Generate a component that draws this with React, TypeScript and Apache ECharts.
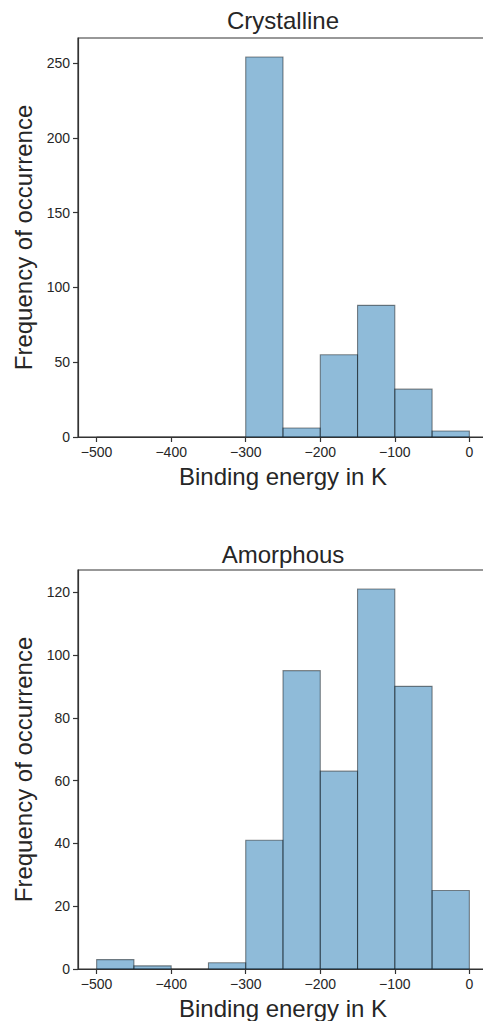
import React, { useEffect, useRef } from "react";
import * as echarts from "echarts";

const binEdges = [-500, -450, -400, -350, -300, -250, -200, -150, -100, -50, 0];
const crystallineCounts = [0, 0, 0, 0, 254, 6, 55, 88, 32, 4];
const amorphousCounts = [3, 1, 0, 2, 41, 95, 63, 121, 90, 25];
const xTicks = [-500, -400, -300, -200, -100, 0];
const crystallineYTicks = [0, 50, 100, 150, 200, 250];
const amorphousYTicks = [0, 20, 40, 60, 80, 100, 120];
const titles = ["Crystalline", "Amorphous"];
const xLabel = "Binding energy in K";
const yLabel = "Frequency of occurrence";

const FONT = "'Liberation Sans', Arial, sans-serif";
const TEXT = "#262626";
const AX = "#333333";

function toBins(counts: number[]) {
  return counts.map((c, i) => [binEdges[i], binEdges[i + 1], c]);
}

export default function App() {
  const ref = useRef<HTMLDivElement>(null);
  useEffect(() => {
    if (!ref.current) return;
    const chart = echarts.init(ref.current, null, { renderer: "svg" });
    const grids = [
      { left: 78, top: 38, width: 410, height: 399 },
      { left: 78, top: 570, width: 410, height: 399 },
    ];
    const fmt = (v: number) => String(v).replace("-", "\u2212");
    const xAxis = [0, 1].map((i) => ({
      type: "value",
      gridIndex: i,
      min: -525,
      max: 25,
      name: xLabel,
      nameLocation: "middle",
      nameGap: 27,
      nameTextStyle: { fontFamily: FONT, fontSize: 24, color: TEXT },
      axisLine: { show: true, onZero: false, lineStyle: { color: AX, width: 1.2 } },
      axisTick: { show: true, length: 5, customValues: xTicks, lineStyle: { color: AX, width: 1.2 } },
      axisLabel: { customValues: xTicks, formatter: fmt, fontFamily: FONT, fontSize: 14, color: TEXT, margin: 8 },
      splitLine: { show: false },
    }));
    const yTickSets = [crystallineYTicks, amorphousYTicks];
    const yMax = [254 * 1.05, 121 * 1.05];
    const yAxis = [0, 1].map((i) => ({
      type: "value",
      gridIndex: i,
      min: 0,
      max: yMax[i],
      name: yLabel,
      nameLocation: "middle",
      nameGap: 40,
      nameTextStyle: { fontFamily: FONT, fontSize: 24, color: TEXT },
      axisLine: { show: true, onZero: false, lineStyle: { color: AX, width: 1.2 } },
      axisTick: { show: true, length: 5, customValues: yTickSets[i], lineStyle: { color: AX, width: 1.2 } },
      axisLabel: { customValues: yTickSets[i], fontFamily: FONT, fontSize: 14, color: TEXT, margin: 8 },
      splitLine: { show: false },
    }));
    const renderItem = (params: any, api: any) => {
      const p0 = api.coord([api.value(0), api.value(2)]);
      const p1 = api.coord([api.value(1), 0]);
      return {
        type: "rect",
        shape: { x: p0[0], y: p0[1], width: p1[0] - p0[0], height: p1[1] - p0[1] },
        style: { fill: "rgba(31,119,180,0.5)", stroke: "rgba(0,0,0,0.45)", lineWidth: 1.1 },
      };
    };
    const series = [crystallineCounts, amorphousCounts].map((counts, i) => ({
      type: "custom",
      xAxisIndex: i,
      yAxisIndex: i,
      renderItem,
      encode: { x: [0, 1], y: 2 },
      data: toBins(counts),
      clip: true,
    }));
    chart.setOption({
      animation: false,
      backgroundColor: "#ffffff",
      grid: grids.map((g) => ({
        ...g,
        outerBoundsMode: "none",
        containLabel: false,
        show: true,
        borderColor: AX,
        borderWidth: 1.2,
        backgroundColor: "transparent",
      })),
      xAxis,
      yAxis,
      series,
      graphic: [
        { type: "text", x: 283, y: 20, style: { text: titles[0], font: `24px ${FONT}`, fill: TEXT, textAlign: "center", textVerticalAlign: "middle" } },
        { type: "text", x: 283, y: 554, style: { text: titles[1], font: `24px ${FONT}`, fill: TEXT, textAlign: "center", textVerticalAlign: "middle" } },
      ],
    });
    return () => chart.dispose();
  }, []);
  return (
    <div
      ref={ref}
      style={{ position: "fixed", left: 0, top: 0, width: 483, height: 1021, background: "#fff" }}
    />
  );
}
